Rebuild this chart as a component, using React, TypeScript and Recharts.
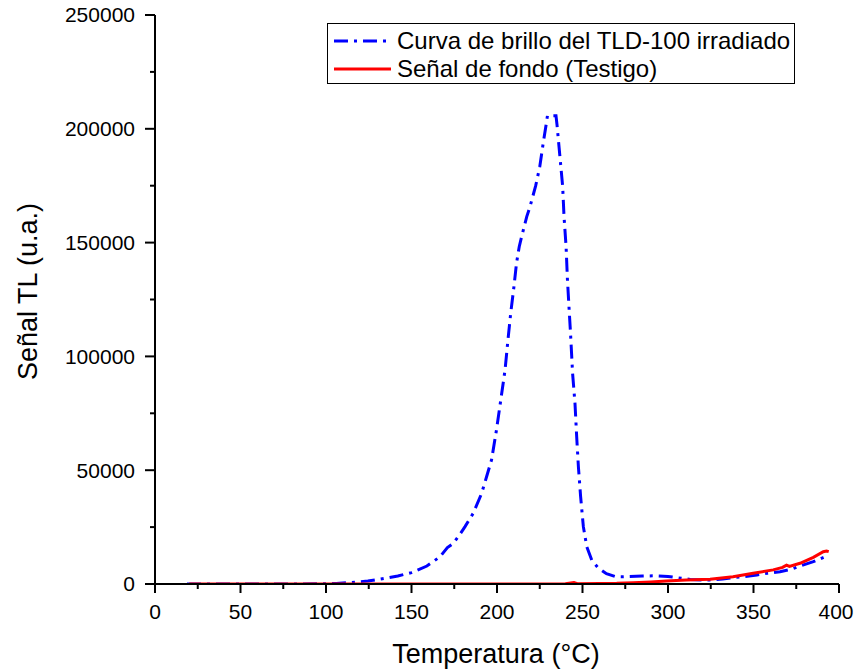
import React from 'react';
import { LineChart, Line, XAxis, YAxis, Legend } from 'recharts';

// Glow curve of irradiated TLD-100 (blue, dash-dot)
const tempBlue = [
  18.7, 40, 60, 80, 100, 106, 115, 124.5, 133, 142, 150, 159, 166.7, 171, 174.5, 178, 181.3, 186.1, 191,
  193.9, 196.8, 199.7, 202.2, 204.7, 206.6, 208, 209.9, 211.4, 213, 214.4, 217.4, 219.3, 222.6, 225, 227,
  228.7, 229.5, 234.5, 235.1, 236.8, 238.4, 239.2, 240.4, 241.2, 242.2, 243, 244.2, 245.6, 246.6, 247.6,
  248.9, 250.5, 252.5, 255.4, 259, 264, 269, 274, 285, 293, 300, 305, 313, 320, 325, 332, 338, 345, 352,
  358, 365.5, 372, 377.2, 385, 392,
];
const signalBlue = [
  0, 0, 0, 0, 100, 250, 700, 1300, 2300, 3500, 5000, 7900, 12000, 16000, 17900, 21500, 25200, 31100, 39800,
  47100, 54500, 67700, 80800, 94000, 108700, 118900, 130600, 140900, 148200, 152600, 161400, 165800, 174900, 183300, 193600,
  201700, 205700, 205700, 201700, 187800, 174600, 161400, 148200, 133600, 120400, 110100, 92600, 79400, 64700, 51500,
  38400, 25200, 16400, 10500, 7200, 4500, 3300, 3200, 3500, 3600, 3300, 2800, 2000, 1800, 1750, 2200, 2800, 3300, 4000,
  4700, 5400, 6500, 7900, 9800, 12000,
];

// Background signal (red, solid)
const tempRed = [
  20, 50, 100, 150, 200, 240, 245, 247, 260, 270, 279.7, 290, 299, 310.7, 324.6, 338, 349.8, 361.5, 367,
  369.3, 371, 377.2, 385, 390.8, 392.7, 394,
];
const signalRed = [
  0, 0, 0, 0, 0, 100, 600, 100, 200, 300, 600, 900, 1300, 1750, 2100, 3200, 4700, 6200, 7300,
  8300, 7700, 9100, 11700, 14200, 14500, 14200,
];

const xTicks = [0, 25, 50, 75, 100, 125, 150, 175, 200, 225, 250, 275, 300, 325, 350, 375, 400];
const yTicks = [0, 25000, 50000, 75000, 100000, 125000, 150000, 175000, 200000, 225000, 250000];
const seriesNames = ['Curva de brillo del TLD-100 irradiado', 'Señal de fondo (Testigo)'];
const xLabel = 'Temperatura (°C)';
const yLabel = 'Señal TL (u.a.)';

const blueData = tempBlue.map((t, i) => ({ t, v: signalBlue[i] }));
const redData = tempRed.map((t, i) => ({ t, v: signalRed[i] }));

const FONT = '"Liberation Sans", Arial, Helvetica, sans-serif';
const BLUE_DASH = '14 6 3 6';

const XTick = (props: any) => {
  const { x, y, payload } = props;
  const major = payload.value % 50 === 0;
  const y0 = y - 20;
  const isLast = payload.value === xTicks[xTicks.length - 1];
  return (
    <g>
      <line x1={x} x2={x} y1={y0} y2={y0 + (major ? 9 : 5)} stroke="#000" strokeWidth={2} />
      {major && (
        <text x={isLast ? x - 3 : x} y={y} dy="0.71em" textAnchor="middle" fontSize={21} fill="#000" fontFamily={FONT}>
          {payload.value}
        </text>
      )}
    </g>
  );
};

const YTick = (props: any) => {
  const { x, y, payload } = props;
  const major = payload.value % 50000 === 0;
  const x0 = x + 20;
  return (
    <g>
      <line x1={x0} x2={x0 - (major ? 10 : 5)} y1={y} y2={y} stroke="#000" strokeWidth={2} />
      {major && (
        <text x={x} y={y} dy="0.355em" textAnchor="end" fontSize={21} fill="#000" fontFamily={FONT}>
          {payload.value}
        </text>
      )}
    </g>
  );
};

const LegendBox = () => (
  <div
    style={{
      boxSizing: 'border-box',
      border: '1px solid #000',
      width: 468,
      height: 61,
      background: '#fff',
      position: 'relative',
      fontFamily: FONT,
      fontSize: 24,
      color: '#000',
    }}
  >
    <svg width={70} height={59} style={{ position: 'absolute', left: 0, top: 0 }}>
      <line x1={6} x2={63} y1={17} y2={17} stroke="#0000ff" strokeWidth={3} strokeDasharray={BLUE_DASH} />
      <line x1={6} x2={63} y1={45} y2={45} stroke="#ff0000" strokeWidth={3} />
    </svg>
    <div style={{ position: 'absolute', left: 69, top: 3, lineHeight: '28px', whiteSpace: 'nowrap' }}>
      {seriesNames[0]}
    </div>
    <div style={{ position: 'absolute', left: 69, top: 31, lineHeight: '28px', whiteSpace: 'nowrap' }}>
      {seriesNames[1]}
    </div>
  </div>
);

export default function App() {
  return (
    <div style={{ position: 'absolute', left: 0, top: 0, width: 855, height: 670, background: '#fff', fontFamily: FONT }}>
      <LineChart width={855} height={670} margin={{ top: 15, right: 16, left: 0, bottom: 0 }}>
        <XAxis
          dataKey="t"
          type="number"
          domain={[0, 400]}
          ticks={xTicks}
          interval={0}
          allowDataOverflow
          height={86}
          tickSize={9}
          tickMargin={11}
          tickLine={false}
          axisLine={{ stroke: '#000', strokeWidth: 2 }}
          tick={XTick}
          label={{
            content: (p: any) => {
              const vb = p.viewBox;
              return (
                <text x={vb.x + vb.width / 2 - 1} y={vb.y + 79} textAnchor="middle" fontSize={27} fill="#000" fontFamily={FONT}>
                  {xLabel}
                </text>
              );
            },
          }}
        />
        <YAxis
          type="number"
          domain={[0, 250000]}
          ticks={yTicks}
          interval={0}
          allowDataOverflow
          width={155}
          tickSize={10}
          tickMargin={10}
          tickLine={false}
          axisLine={{ stroke: '#000', strokeWidth: 2 }}
          tick={YTick}
          label={{
            content: (p: any) => {
              const vb = p.viewBox;
              const cx = vb.x + 28;
              const cy = vb.y + vb.height / 2 - 8;
              return (
                <text
                  x={cx}
                  y={cy}
                  dy="0.35em"
                  textAnchor="middle"
                  fontSize={27}
                  fill="#000"
                  fontFamily={FONT}
                  transform={`rotate(-90, ${cx}, ${cy})`}
                >
                  {yLabel}
                </text>
              );
            },
          }}
        />
        <Legend
          layout="vertical"
          verticalAlign="middle"
          align="center"
          wrapperStyle={{ top: 23, left: 327, width: 'auto', height: 'auto' }}
          content={() => <LegendBox />}
        />
        <Line
          data={blueData}
          dataKey="v"
          name={seriesNames[0]}
          type="linear"
          stroke="#0000ff"
          strokeWidth={3}
          strokeDasharray={BLUE_DASH}
          dot={false}
          activeDot={false}
          isAnimationActive={false}
        />
        <Line
          data={redData}
          dataKey="v"
          name={seriesNames[1]}
          type="linear"
          stroke="#ff0000"
          strokeWidth={3}
          dot={false}
          activeDot={false}
          isAnimationActive={false}
        />
      </LineChart>
    </div>
  );
}
